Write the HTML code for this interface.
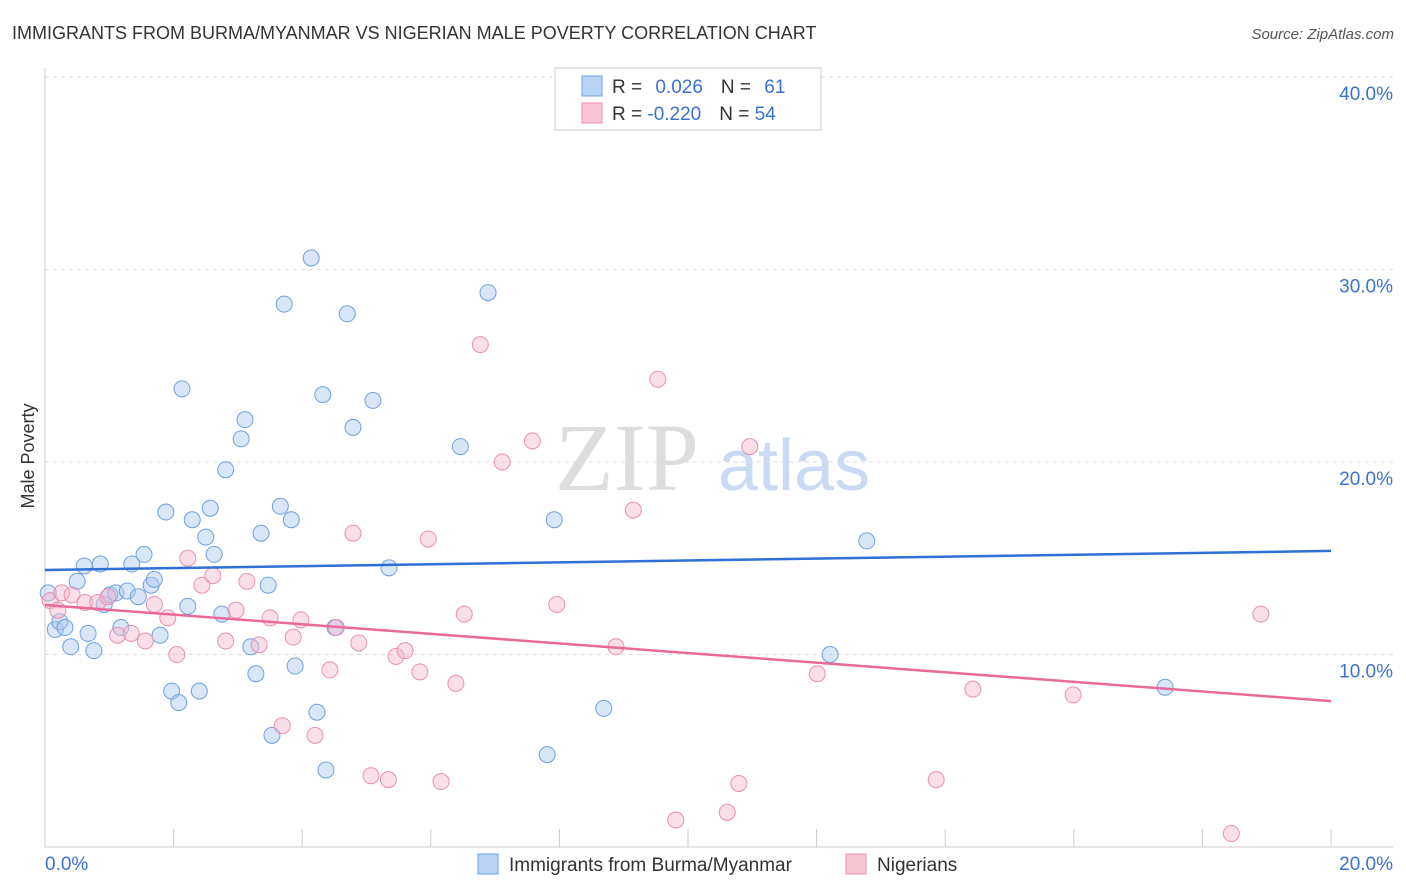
<!DOCTYPE html>
<html><head><meta charset="utf-8">
<style>
body{margin:0;background:#fff;font-family:"Liberation Sans",sans-serif;}
#wrap{position:relative;width:1406px;height:892px;overflow:hidden;}
</style></head>
<body>
<div id="wrap">
<svg id="chart" width="1406" height="892">
<text x="12" y="39" font-size="18" fill="#333">IMMIGRANTS FROM BURMA/MYANMAR VS NIGERIAN MALE POVERTY CORRELATION CHART</text>
<text x="1394" y="39" font-size="15" fill="#555" font-style="italic" text-anchor="end">Source: ZipAtlas.com</text>
<text x="555" y="490" font-size="96" fill="#ddd" font-family="Liberation Serif,serif">ZIP</text>
<text x="718" y="490" font-size="72" fill="#c9daf2">atlas</text>
<text x="34" y="456" font-size="18" fill="#333" transform="rotate(-90 34 456)" text-anchor="middle">Male Poverty</text>
<g id="grid"></g><g id="ticks"></g><g id="pts"></g><g id="lines"></g>
<g>
<rect x="555" y="68" width="266" height="62" fill="#fff" stroke="#ccc"/>
<rect x="582" y="76" width="20" height="20" fill="#b8d3f5" stroke="#6fa0e0"/>
<rect x="582" y="103" width="20" height="20" fill="#f9c6d6" stroke="#e890b0"/>
<text x="612" y="93" font-size="19" fill="#333">R = <tspan fill="#3a72d0" dx="8">0.026</tspan><tspan dx="18" fill="#333">N = </tspan><tspan fill="#3a72d0" dx="8">61</tspan></text>
<text x="612" y="120" font-size="19" fill="#333">R = <tspan fill="#3a72d0">-0.220</tspan><tspan dx="18" fill="#333">N = </tspan><tspan fill="#3a72d0">54</tspan></text>
</g>
<g>
<rect x="478" y="854" width="20" height="20" fill="#b8d3f5" stroke="#6fa0e0"/>
<text x="509" y="871" font-size="19" fill="#333">Immigrants from Burma/Myanmar</text>
<rect x="846" y="854" width="20" height="20" fill="#f9c6d6" stroke="#e890b0"/>
<text x="877" y="871" font-size="19" fill="#333">Nigerians</text>
</g>
</svg>
</div>
<script>
const yTicks=[10,20,30,40];
const yTickLabels=["10.0%","20.0%","30.0%","40.0%"];
const xTickLabels=["0.0%","20.0%"];
const burmaX=[0.05,0.16,0.23,0.31,0.40,0.50,0.61,0.67,0.76,0.86,0.92,1.01,1.10,1.18,1.28,1.35,1.45,1.54,1.65,1.70,1.79,1.88,1.97,2.08,2.13,2.22,2.29,2.40,2.50,2.57,2.63,2.75,2.81,3.05,3.11,3.20,3.28,3.36,3.47,3.53,3.66,3.72,3.83,3.89,4.14,4.23,4.32,4.37,4.51,4.70,4.79,5.10,5.35,6.46,6.89,7.81,7.92,8.69,12.21,12.78,17.42];
const burmaY=[13.2,11.3,11.7,11.4,10.4,13.8,14.6,11.1,10.2,14.7,12.6,13.1,13.2,11.4,13.3,14.7,13.0,15.2,13.6,13.9,11.0,17.4,8.1,7.5,23.8,12.5,17.0,8.1,16.1,17.6,15.2,12.1,19.6,21.2,22.2,10.4,9.0,16.3,13.6,5.8,17.7,28.2,17.0,9.4,30.6,7.0,23.5,4.0,11.4,27.7,21.8,23.2,14.5,20.8,28.8,4.8,17.0,7.2,10.0,15.9,8.3];
const nigX=[0.08,0.20,0.26,0.42,0.62,0.82,0.98,1.13,1.34,1.56,1.70,1.91,2.05,2.22,2.44,2.61,2.81,2.97,3.14,3.33,3.50,3.69,3.86,3.98,4.20,4.43,4.53,4.79,4.88,5.07,5.34,5.46,5.60,5.83,5.96,6.16,6.39,6.52,6.77,7.11,7.58,7.96,8.88,9.15,9.53,9.81,10.61,10.79,10.96,12.01,13.86,14.43,15.99,18.45,18.91];
const nigY=[12.8,12.3,13.2,13.1,12.7,12.7,13.0,11.0,11.1,10.7,12.6,11.9,10.0,15.0,13.6,14.1,10.7,12.3,13.8,10.5,11.9,6.3,10.9,11.8,5.8,9.2,11.4,16.3,10.6,3.7,3.5,9.9,10.2,9.1,16.0,3.4,8.5,12.1,26.1,20.0,21.1,12.6,10.4,17.5,24.3,1.4,1.8,3.3,20.8,9.0,3.5,8.2,7.9,0.7,12.1];
const trendBurma=[14.39,15.38];
const trendNig=[12.57,7.58];
const X=v=>45+v/20*1286, Y=v=>847-v*19.25;
const NS="http://www.w3.org/2000/svg";
function mk(tag,attrs,parent){const e=document.createElementNS(NS,tag);for(const k in attrs)e.setAttribute(k,attrs[k]);document.getElementById(parent).appendChild(e);return e;}
yTicks.forEach((t,i)=>{
 const l=mk('line',{x1:45,x2:1393,y1:Y(t),y2:Y(t),stroke:'#ddd','stroke-dasharray':'4,4'},'grid');
 
 
 const tx=mk('text',{x:1393,y:Y(t)+23,'font-size':19,fill:'#3a72d0','text-anchor':'end'},'ticks');
 tx.textContent=yTickLabels[i];
 
 
});
let ax=mk('line',{x1:45,x2:45,y1:68,y2:847,stroke:'#ccc'},'grid');


let bx=mk('line',{x1:45,x2:1393,y1:847,y2:847,stroke:'#ccc'},'grid');


for(let i=1;i<=10;i++){
 const t=mk('line',{x1:X(i*2),x2:X(i*2),y1:829,y2:847,stroke:'#ccc'},'grid');
 
 
}
[[0,'start'],[20,'end']].forEach((p,i)=>{
 const t=mk('text',{x:i?1393:45,y:870,'font-size':19,fill:'#3a72d0','text-anchor':p[1]},'ticks');
 t.textContent=xTickLabels[i];
 
 
});
burmaX.forEach((x,i)=>{
 const c=mk('circle',{cx:X(x),cy:Y(burmaY[i]),r:8,fill:'rgba(168,200,240,0.45)',stroke:'#6fa0e0','stroke-width':1},'pts');
 
 
});
nigX.forEach((x,i)=>{
 const c=mk('circle',{cx:X(x),cy:Y(nigY[i]),r:8,fill:'rgba(245,184,204,0.45)',stroke:'#e890b0','stroke-width':1},'pts');
 
 
});
let tb=mk('line',{x1:X(0),x2:X(20),y1:Y(trendBurma[0]),y2:Y(trendBurma[1]),stroke:'#2f6fd6','stroke-width':2.5},'lines');


let tn=mk('line',{x1:X(0),x2:X(20),y1:Y(trendNig[0]),y2:Y(trendNig[1]),stroke:'#e8699a','stroke-width':2.5},'lines');


</script>
</body></html>
